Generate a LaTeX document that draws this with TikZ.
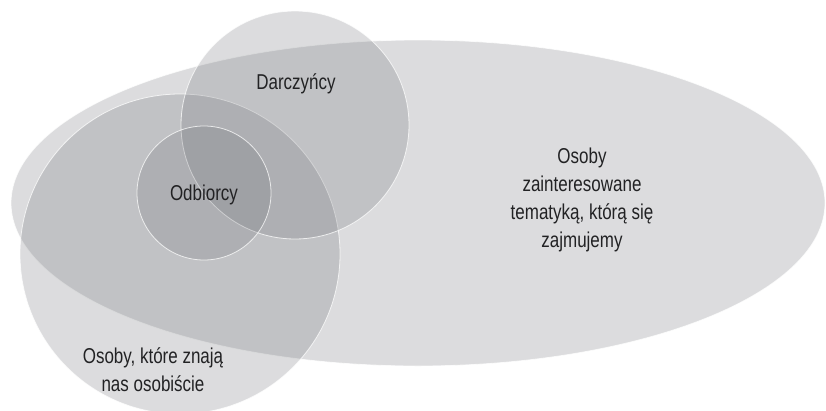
\documentclass[tikz,border=0pt]{standalone}
\usepackage{fontspec}
\setmainfont{Liberation Sans}[FakeStretch=0.79]
\usetikzlibrary{shapes.geometric}
\definecolor{blobgray}{RGB}{118,120,126}
\definecolor{inktext}{RGB}{34,34,36}
\begin{document}
\begin{tikzpicture}[x=1pt,y=-1pt]
\tikzset{
  blob/.style={fill=blobgray, fill opacity=0.26, draw=white, draw opacity=0.75,
    line width=0.8pt, inner sep=0pt, outer sep=0pt},
  lbl/.style={text=inktext, align=center, inner sep=0pt,
    font=\fontsize{21.5}{28}\selectfont}
}
\useasboundingbox (0,0) rectangle (826,410);
% overlapping groups
\node[blob, ellipse, minimum width=814pt, minimum height=326pt] (interested) at (418,203) {};
\node[blob, circle, minimum size=320pt] (known) at (180,254) {};
\node[blob, circle, minimum size=228pt] (donors) at (295,125) {};
\node[blob, circle, minimum size=134pt] (recipients) at (204,193) {};
% labels
\node[lbl] (tdonors) at (296,84) {Darczyńcy};
\node[lbl] (trecipients) at (204,195) {Odbiorcy};
\node[lbl] (tinterested) at (582,200) {Osoby\\zainteresowane\\tematyką, którą się\\zajmujemy};
\node[lbl] (tknown) at (153,370) {Osoby, które znają\\nas osobiście};
\end{tikzpicture}
\end{document}
